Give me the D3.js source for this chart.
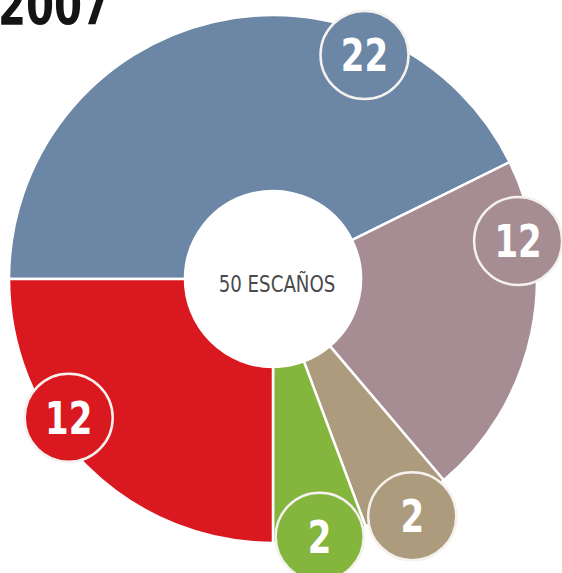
<!DOCTYPE html>
<html>
<head>
<meta charset="utf-8">
<script src="https://cdn.jsdelivr.net/npm/d3@7"></script>
<style>
  html, body { margin: 0; padding: 0; background: #fff; overflow: hidden; }
  svg { display: block; }
</style>
</head>
<body>
<svg id="chart" width="562" height="573"></svg>
<script>
// ---- data ----
const title = "2007";
const totalLabel = "50 ESCAÑOS";
const categories = ["azul", "malva", "beige", "verde", "rojo"];
const seats = [22, 12, 2, 2, 12];
// apparent slice size as drawn in the picture (in seat units, total 50)
const sliceSize = [21.35, 10.55, 2.75, 2.85, 12.5];
const colors = ["#6b87a5", "#a68d94", "#ad9b7d", "#84b53c", "#da1820"];

// ---- layout (not data) ----
const cx = 273, cy = 279, rOuter = 264, rInner = 88, rBadge = 44;
// badge placement: fraction along slice arc, distance from centre
const badgeFrac = [0.73, 0.23, 0.5, 0.5, 0.62];
const badgeDist = [242, 248, 275, 262, 247];

const svg = d3.select("#chart");
const narrow = "'Liberation Sans Narrow', 'DejaVu Sans Condensed', 'Arial Narrow', sans-serif";

const rows = categories.map((c, i) => ({ cat: c, seats: seats[i], size: sliceSize[i], color: colors[i], i }));

const pie = d3.pie().sort(null).value(d => d.size)
  .startAngle(-Math.PI / 2).endAngle(Math.PI * 1.5);
const arcs = pie(rows);

const arc = d3.arc().innerRadius(rInner).outerRadius(rOuter);

const g = svg.append("g").attr("transform", `translate(${cx},${cy})`);

g.selectAll("path.slice").data(arcs).join("path")
  .attr("class", "slice")
  .attr("d", arc)
  .attr("fill", d => d.data.color)
  .attr("stroke", "#fff")
  .attr("stroke-width", 2.5)
  .attr("stroke-linejoin", "round");

// badges
const badges = g.selectAll("g.badge").data(arcs).join("g")
  .attr("class", "badge")
  .attr("transform", d => {
    const a = d.startAngle + badgeFrac[d.data.i] * (d.endAngle - d.startAngle);
    const r = badgeDist[d.data.i];
    return `translate(${r * Math.sin(a)},${-r * Math.cos(a)})`;
  });
badges.append("circle")
  .attr("r", rBadge)
  .attr("fill", d => d.data.color)
  .attr("stroke", "#f4f1ee")
  .attr("stroke-width", 2.5);
badges.append("text")
  .attr("text-anchor", "middle")
  .attr("dy", "0.36em")
  .attr("transform", "scale(0.84,1)")
  .attr("font-family", narrow)
  .attr("font-weight", "bold")
  .attr("font-size", 45)
  .attr("fill", "#fff")
  .text(d => d.data.seats);

// centre label
g.append("text")
  .attr("transform", "translate(4,13) scale(0.88,1)")
  .attr("text-anchor", "middle")
  .attr("font-family", narrow)
  .attr("font-size", 23)
  .attr("fill", "#4a4a4a")
  .text(totalLabel);

// title (cut at top, as in the reference)
svg.append("text")
  .attr("transform", "translate(-2,24) scale(0.8,1)")
  .attr("font-family", narrow)
  .attr("font-weight", "bold")
  .attr("font-size", 56)
  .attr("fill", "#141414")
  .text(title);
</script>
</body>
</html>
